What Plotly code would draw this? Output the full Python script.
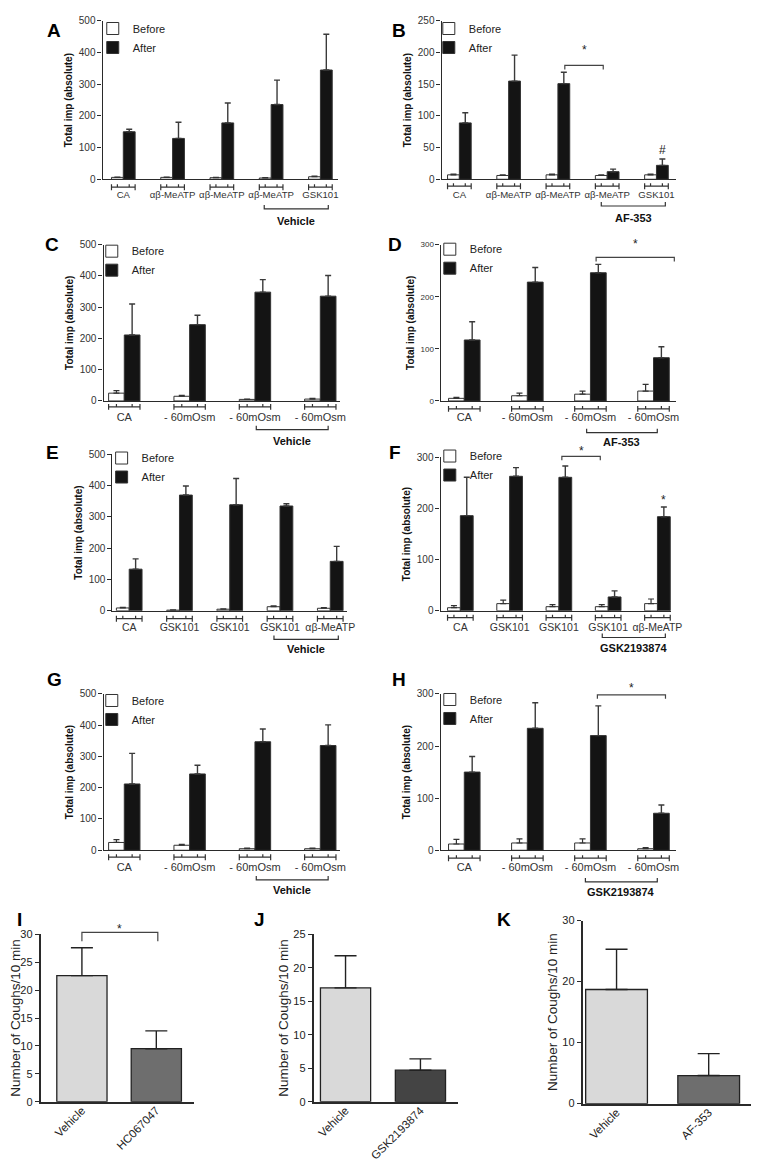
import plotly.graph_objects as go

W, H = 759, 1162
FONT = "Arial, Liberation Sans, Helvetica, sans-serif"

# ---------------- data ----------------
A_categories = ["CA", "αβ-MeATP", "αβ-MeATP", "αβ-MeATP", "GSK101"]
A_before = [6, 6, 5, 4, 8]
A_before_sem = [1, 1, 1, 1, 2]
A_after = [150, 129, 178, 236, 345]
A_after_sem = [8, 51, 63, 77, 113]

B_categories = ["CA", "αβ-MeATP", "αβ-MeATP", "αβ-MeATP", "GSK101"]
B_before = [7, 6, 7, 6, 7]
B_before_sem = [1, 1, 1, 1, 1]
B_after = [89, 155, 151, 12, 22]
B_after_sem = [16, 41, 18, 4, 10]

C_categories = ["CA", "- 60mOsm", "- 60mOsm", "- 60mOsm"]
C_before = [25, 15, 5, 6]
C_before_sem = [8, 3, 1, 2]
C_after = [211, 244, 348, 335]
C_after_sem = [99, 30, 40, 66]

D_categories = ["CA", "- 60mOsm", "- 60mOsm", "- 60mOsm"]
D_before = [5, 10, 13, 19]
D_before_sem = [2, 5, 6, 13]
D_after = [117, 228, 246, 83]
D_after_sem = [35, 28, 16, 21]

E_categories = ["CA", "GSK101", "GSK101", "GSK101", "αβ-MeATP"]
E_before = [9, 2, 5, 13, 8]
E_before_sem = [2, 1, 1, 3, 2]
E_after = [133, 370, 339, 335, 158]
E_after_sem = [33, 29, 84, 7, 48]

F_categories = ["CA", "GSK101", "GSK101", "GSK101", "αβ-MeATP"]
F_before = [6, 14, 8, 8, 14]
F_before_sem = [4, 7, 4, 4, 9]
F_after = [186, 263, 261, 27, 184]
F_after_sem = [75, 17, 22, 12, 19]

G_categories = ["CA", "- 60mOsm", "- 60mOsm", "- 60mOsm"]
G_before = [25, 16, 5, 5]
G_before_sem = [9, 3, 2, 2]
G_after = [212, 244, 347, 335]
G_after_sem = [98, 28, 41, 66]

H_categories = ["CA", "- 60mOsm", "- 60mOsm", "- 60mOsm"]
H_before = [12, 14, 14, 3]
H_before_sem = [9, 8, 8, 2]
H_after = [150, 234, 220, 71]
H_after_sem = [30, 49, 57, 16]

I_categories = ["Vehicle", "HC067047"]
I_values = [22.6, 9.5]
I_sem = [5.0, 3.2]

J_categories = ["Vehicle", "GSK2193874"]
J_values = [17.0, 4.7]
J_sem = [4.8, 1.7]

K_categories = ["Vehicle", "AF-353"]
K_values = [18.7, 4.6]
K_sem = [6.6, 3.6]

# ---------------- layout helpers ----------------
def px2x(px):
    return px / W


def py2y(py):
    return 1 - py / H


def ax_id(k):
    return "" if k == 1 else str(k)


INK = "#2a2a2a"

fig = go.Figure()
layout = dict(
    width=W, height=H,
    margin=dict(l=0, r=0, t=0, b=0),
    paper_bgcolor="white", plot_bgcolor="rgba(0,0,0,0)",
    font=dict(family=FONT, color=INK),
    barmode="overlay", showlegend=True,
)
shapes = []
annotations = []

# grouped panels: data + placement (pixel boxes)
grouped = [
    dict(letter="A", cats=A_categories, b=A_before, bs=A_before_sem, a=A_after, as_=A_after_sem,
         x0=96, x1=335, yt=7, yb=167, ymax=500, dtick=100, c0=117, s=50, w=0.24, tf=10, xf=9.6,
         br=175, grp=("Vehicle", 2.86, 4.16, 197, 209), leg=(86, 0), let=(47, 17)),
    dict(letter="B", cats=B_categories, b=B_before, bs=B_before_sem, a=B_after, as_=B_after_sem,
         x0=440, x1=678, yt=7, yb=167, ymax=250, dtick=50, c0=458, s=50, w=0.24, tf=10, xf=9.6,
         br=174, grp=("AF-353", 2.88, 4.18, 194, 206), leg=(427, 0), let=(397, 17)),
    dict(letter="C", cats=C_categories, b=C_before, bs=C_before_sem, a=C_after, as_=C_after_sem,
         x0=97, x1=337, yt=233, yb=391, ymax=500, dtick=100, c0=118, s=66.3, w=0.24, tf=10, xf=11,
         br=397, grp=("Vehicle", 2.02, 3.12, 420, 431), leg=(85, 225), let=(45, 233)),
    dict(letter="D", cats=D_categories, b=D_before, bs=D_before_sem, a=D_after, as_=D_after_sem,
         x0=439, x1=678, yt=233, yb=391, ymax=300, dtick=100, c0=463, s=64, w=0.25, tf=8, xf=11,
         br=399, grp=("AF-353", 1.94, 3.06, 423, 432), leg=(428, 223), let=(393, 233)),
    dict(letter="E", cats=E_categories, b=E_before, bs=E_before_sem, a=E_after, as_=E_after_sem,
         x0=106, x1=344, yt=445, yb=603, ymax=500, dtick=100, c0=123, s=51, w=0.255, tf=10, xf=10.5,
         br=611, grp=("Vehicle", 2.88, 4.16, 632, 642), leg=(95, 434), let=(45, 443)),
    dict(letter="F", cats=F_categories, b=F_before, bs=F_before_sem, a=F_after, as_=F_after_sem,
         x0=439, x1=673, yt=448, yb=603, ymax=300, dtick=100, c0=459, s=50, w=0.26, tf=10, xf=10.5,
         br=610, grp=("GSK2193874", 2.88, 4.16, 630, 641), leg=(428, 432), let=(393, 443)),
    dict(letter="G", cats=G_categories, b=G_before, bs=G_before_sem, a=G_after, as_=G_after_sem,
         x0=97, x1=337, yt=687, yb=845, ymax=500, dtick=100, c0=118, s=66.3, w=0.24, tf=10, xf=11,
         br=852, grp=("Vehicle", 2.02, 3.12, 875, 885), leg=(85, 679), let=(47, 672)),
    dict(letter="H", cats=H_categories, b=H_before, bs=H_before_sem, a=H_after, as_=H_after_sem,
         x0=439, x1=678, yt=687, yb=845, ymax=300, dtick=100, c0=463, s=64, w=0.25, tf=10, xf=11,
         br=853, grp=("GSK2193874", 1.92, 3.06, 877, 887), leg=(428, 678), let=(397, 672)),
]

# significance marks (x in group units, y in pixels): (panel, a, b, line_px, star_px)
sig_brackets = [("B", 2.14, 2.92, 52, 36), ("D", 2.09, 3.33, 246, 232),
                ("F", 2.06, 2.84, 447, 442), ("H", 2.11, 3.19, 688, 681)]
bar_marks = [("B", 4, "#", 137), ("F", 4, "*", 491)]

panel_index = {}
for k, p in enumerate(grouped, start=1):
    sfx = ax_id(k)
    panel_index[p["letter"]] = (k, p)
    n = len(p["cats"])
    idx = list(range(n))
    lo = (p["x0"] - p["c0"]) / p["s"]
    hi = (p["x1"] - p["c0"]) / p["s"]
    w = p["w"]
    legname = "legend" + sfx
    fig.add_trace(go.Bar(
        x=idx, y=p["b"], width=w, offset=-w, name="Before",
        marker=dict(color="white", line=dict(color="#333", width=1)),
        error_y=dict(type="data", symmetric=False, array=p["bs"], arrayminus=[0] * n,
                     color="#333", thickness=1.2, width=3),
        xaxis="x" + sfx, yaxis="y" + sfx, legend=legname,
    ))
    fig.add_trace(go.Bar(
        x=idx, y=p["a"], width=w, offset=0, name="After",
        marker=dict(color="#141414", line=dict(color="#333", width=1)),
        error_y=dict(type="data", symmetric=False, array=p["as_"], arrayminus=[0] * n,
                     color="#3a3a3a", thickness=1.4, width=3),
        xaxis="x" + sfx, yaxis="y" + sfx, legend=legname,
    ))
    layout["xaxis" + sfx] = dict(
        domain=[px2x(p["x0"]), px2x(p["x1"])], range=[lo, hi], anchor="y" + sfx,
        showline=True, linecolor=INK, linewidth=1.3, ticks="",
        tickvals=idx, ticktext=p["cats"], tickangle=0, tickfont=dict(size=p["xf"], color="#333"),
        ticklabelstandoff=6, showgrid=False, zeroline=False, fixedrange=True,
    )
    layout["yaxis" + sfx] = dict(
        domain=[py2y(p["yb"]), py2y(p["yt"])], range=[0, p["ymax"]], anchor="x" + sfx,
        tick0=0, dtick=p["dtick"], showline=True, linecolor=INK, linewidth=1.3,
        ticks="outside", ticklen=4, tickwidth=1.2, tickcolor=INK,
        tickfont=dict(size=p["tf"], color="#333"), showgrid=False, zeroline=False,
        title=dict(text="Total imp (absolute)", font=dict(size=10, weight="bold", color="#111"), standoff=4),
        fixedrange=True,
    )
    layout[legname] = dict(
        x=px2x(p["leg"][0]), y=py2y(p["leg"][1]), xanchor="left", yanchor="top",
        bgcolor="rgba(0,0,0,0)", font=dict(size=11, color="#222"), traceorder="normal",
        tracegroupgap=0, itemclick=False, itemdoubleclick=False,
    )
    # category brackets under the axis
    yb = py2y(p["br"])
    d = 3 / H
    for i in idx:
        a, b = i - w, i + w
        path = (f"M{a},{yb} L{b},{yb} M{a},{yb + d} L{a},{yb - d} M{b},{yb + d} L{b},{yb - d} "
                f"M{i - w / 2},{yb} L{i - w / 2},{yb + d} M{i + w / 2},{yb} L{i + w / 2},{yb + d}")
        shapes.append(dict(type="path", path=path, xref="x" + sfx, yref="paper",
                           line=dict(color="#333", width=1.2)))
    # treatment bracket
    gtxt, ga, gb, gy, gly = p["grp"]
    yg = py2y(gy)
    d4 = 4 / H
    shapes.append(dict(type="path", path=f"M{ga},{yg + d4} L{ga},{yg} L{gb},{yg} L{gb},{yg + d4}",
                       xref="x" + sfx, yref="paper", line=dict(color="#333", width=1.2)))
    annotations.append(dict(text=gtxt, x=(ga + gb) / 2, y=py2y(gly), xref="x" + sfx, yref="paper",
                            showarrow=False, font=dict(size=11, weight="bold", color="#111"),
                            xanchor="center", yanchor="middle"))
    annotations.append(dict(text=p["letter"], x=px2x(p["let"][0]), y=py2y(p["let"][1]),
                            xref="paper", yref="paper", showarrow=False,
                            font=dict(size=19, weight="bold", color="#000"),
                            xanchor="center", yanchor="middle"))

for letter, a, b, ly, sy in sig_brackets:
    k, p = panel_index[letter]
    sfx = ax_id(k)
    y = py2y(ly)
    d = 4 / H
    shapes.append(dict(type="path", path=f"M{a},{y - d} L{a},{y} L{b},{y} L{b},{y - d}",
                       xref="x" + sfx, yref="paper", line=dict(color="#444", width=1.2)))
    annotations.append(dict(text="*", x=(a + b) / 2, y=py2y(sy), xref="x" + sfx, yref="paper",
                            showarrow=False, font=dict(size=12, color="#222"),
                            xanchor="center", yanchor="middle"))

for letter, i, txt, sy in bar_marks:
    k, p = panel_index[letter]
    sfx = ax_id(k)
    annotations.append(dict(text=txt, x=i + p["w"] / 2, y=py2y(sy), xref="x" + sfx, yref="paper",
                            showarrow=False, font=dict(size=12, color="#222"),
                            xanchor="center", yanchor="middle"))

# cough panels
coughs = [
    dict(letter="I", cats=I_categories, v=I_values, e=I_sem, colors=["#d9d9d9", "#6e6e6e"],
         x0=33, x1=189, yt=930, yb=1099, ymax=30, dtick=5, c0=75, s=75.5, w=0.675, let=(12, 915)),
    dict(letter="J", cats=J_categories, v=J_values, e=J_sem, colors=["#d9d9d9", "#444444"],
         x0=310, x1=457, yt=930, yb=1099, ymax=25, dtick=5, c0=342.5, s=76, w=0.67, let=(255, 915)),
    dict(letter="K", cats=K_categories, v=K_values, e=K_sem, colors=["#d9d9d9", "#6e6e6e"],
         x0=583, x1=757, yt=916, yb=1101, ymax=30, dtick=10, c0=617.5, s=93.5, w=0.67, let=(503, 915)),
]
for j, p in enumerate(coughs):
    k = len(grouped) + 1 + j
    sfx = ax_id(k)
    panel_index[p["letter"]] = (k, p)
    idx = list(range(len(p["cats"])))
    lo = (p["x0"] - p["c0"]) / p["s"]
    hi = (p["x1"] - p["c0"]) / p["s"]
    fig.add_trace(go.Bar(
        x=idx, y=p["v"], width=p["w"], name=p["letter"], showlegend=False,
        marker=dict(color=p["colors"], line=dict(color="#222", width=1.3)),
        error_y=dict(type="data", symmetric=False, array=p["e"], arrayminus=[0] * len(idx),
                     color="#222", thickness=1.4, width=11),
        xaxis="x" + sfx, yaxis="y" + sfx,
    ))
    layout["xaxis" + sfx] = dict(
        domain=[px2x(p["x0"]), px2x(p["x1"])], range=[lo, hi], anchor="y" + sfx,
        showline=True, linecolor=INK, linewidth=1.5, ticks="",
        tickvals=idx, ticktext=p["cats"], tickangle=-45,
        tickfont=dict(size=11.5, color="#222"), ticklabelstandoff=-4,
        showgrid=False, zeroline=False, fixedrange=True,
    )
    layout["yaxis" + sfx] = dict(
        domain=[py2y(p["yb"]), py2y(p["yt"])], range=[0, p["ymax"]], anchor="x" + sfx,
        tick0=0, dtick=p["dtick"], showline=True, linecolor=INK, linewidth=1.5,
        ticks="outside", ticklen=4, tickwidth=1.3, tickcolor=INK,
        tickfont=dict(size=11, color="#222"), showgrid=False, zeroline=False,
        title=dict(text="Number of Coughs/10 min", font=dict(size=13.5, color="#222"), standoff=2),
        fixedrange=True,
    )
    annotations.append(dict(text=p["letter"], x=px2x(p["let"][0]), y=py2y(p["let"][1]),
                            xref="paper", yref="paper", showarrow=False,
                            font=dict(size=19, weight="bold", color="#000"),
                            xanchor="center", yanchor="middle"))

# significance in panel I
kI, pI = panel_index["I"]
sfxI = ax_id(kI)
yI = py2y(928)
dI = 9 / H
shapes.append(dict(type="path", path=f"M0,{yI - dI} L0,{yI} L1.02,{yI} L1.02,{yI - dI}",
                   xref="x" + sfxI, yref="paper", line=dict(color="#444", width=1.2)))
annotations.append(dict(text="*", x=0.51, y=py2y(925), xref="x" + sfxI, yref="paper",
                        showarrow=False, font=dict(size=12, color="#222"),
                        xanchor="center", yanchor="middle"))

layout["shapes"] = shapes
layout["annotations"] = annotations
fig.update_layout(**layout)
fig.write_html("out.html")
